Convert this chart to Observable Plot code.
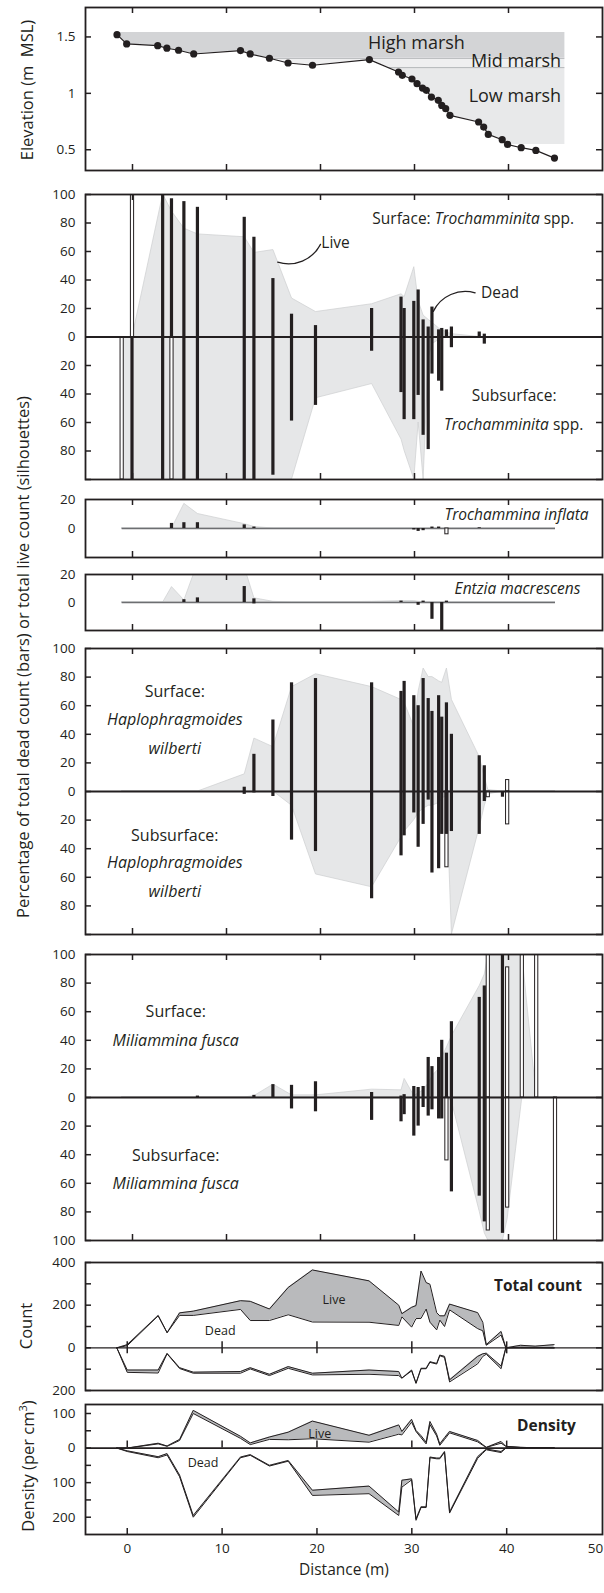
<!DOCTYPE html>
<html>
<head>
<meta charset="utf-8">
<script src="https://cdn.jsdelivr.net/npm/d3@7"></script>
<script src="https://cdn.jsdelivr.net/npm/@observablehq/plot@0.6"></script>
<style>
  html, body { margin: 0; padding: 0; background: #fff; }
  #wrap { position: relative; width: 604px; height: 1593px; overflow: hidden; font-family: "Open Sans", sans-serif; }
</style>
</head>
<body>
<div id="wrap"></div>
<script>
// ---------------- DATA ----------------
// Elevation profile (m MSL) at surveyed distances (m)
const elevDist  = [-1.65, -0.62, 2.68, 3.66, 4.9, 6.51, 11.49, 12.52, 14.57, 16.55, 19.15, 25.2, 28.3, 28.7, 29.73, 30.27, 30.85, 31.26, 31.8, 32.53, 32.9, 33.32, 33.77, 36.82, 37.36, 37.85, 39.33, 39.9, 41.35, 42.91, 44.89];
const elevation = [1.52, 1.438, 1.423, 1.40, 1.382, 1.349, 1.379, 1.349, 1.311, 1.269, 1.249, 1.299, 1.189, 1.160, 1.127, 1.086, 1.047, 1.027, 0.967, 0.938, 0.893, 0.864, 0.805, 0.746, 0.701, 0.636, 0.589, 0.547, 0.518, 0.494, 0.426];
const marshZones  = ["High marsh", "Mid marsh", "Low marsh"];
const marshLevels = [1.54, 1.31, 1.228, 0.547];
const marshEnd = 46;

// Foraminifera sample distances (m)
const sampleDist = [-1.1, 0.0, 3.26, 4.2, 5.52, 6.96, 11.94, 12.97, 14.99, 16.97, 19.52, 25.49, 28.62, 28.95, 29.98, 30.44, 30.97, 31.51, 31.91, 32.62, 32.95, 33.45, 33.98, 36.94, 37.48, 37.85, 39.41, 39.91, 41.47, 43.0, 45.0];

// Trochamminita spp. (% dead = bars, % live = silhouettes)
const trochSurfDead = [0,0,100,97,95,91,84,70,41,16, 8,20,28,20,25,33,12,7,21,5, 6,5,7,3.5,2,0,0,0,0,0, 0];
const trochSubDead  = [0,100,100,0,100,100,100,100,97,59, 48,10,39,58,58,41,69,79,26,31, 38,0,7.5,0,5,0,0,0,0,0, 0];
const trochOpen     = [{i: 0, surf: 0, sub: 100}, {i: 1, surf: 100, sub: 0}, {i: 3, surf: 0, sub: 100}];
const trochSurfLive = [0,0,100,88,76,72,70,59,61,27, 17.5,23,30,28,49,25,15,12,10,6, 5,3,2,0,0,0,0,0,0,0, 0];
const trochSubLive  = [100,100,100,100,100,100,100,100,100,100, 43,33,72,80,100,60,100,15,5,2, 0,0,0,0,0,0,0,0,0,0, 0];

// Trochammina inflata
const inflSurfDead = [0,0,0,3.5,4,4,2.5,1,0,0, 0,0,0,0,0,0,0,0,1,1, 0,0,0,0.5,0,0,0,0,0,0, 0];
const inflSubDead  = [0,0,0,0,0,0,0,0,0,0, 0,0,0,0,1,2,1.5,0,0,0, 0,0,0,0,0,0,0,0,0,0, 0];
const inflOpen     = [{i: 21, surf: 0, sub: 4}];
const inflSurfLive = [0,0,0,0,17,10,3,1,0,0, 0,0,0,0,0,0,0,0,0,0, 0,0,0,0,0,0,0,0,0,0, 0];
const inflSubLive  = [0,0,0,0,0,0,0,0,0,0, 0,0,0,0,0,0,0,0,0,0, 0,0,0,0,0,0,0,0,0,0, 0];

// Entzia macrescens
const entzSurfDead = [0,0,0,0,2,3.3,11.4,2.6,0,0, 0,0,1,0,0,0,1,0,0,0, 0,1,0,0,0,0,0,0,0,0, 0];
const entzSubDead  = [0,0,0,0,0,0,0,1,0,0, 0,0,0,0,0,2,0,0,12,0, 25,0,0,0,0,0,0,0,0,0, 0];
const entzOpen     = [];
const entzSurfLive = [0,0,0,11,1.5,28,25,3,0.5,0, 0,0.5,1,1,1,0.5,0,0,0,0, 0,0,0,0,0,0,0,0,0,0, 0];
const entzSubLive  = [0,0,0,0,0,0,0,0,0,0, 0,0,0,0,0,0,0,0,0,0, 0,0,0,0,0,0,0,0,0,0, 0];

// Haplophragmoides wilberti
const hapSurfDead = [0,0,0,0,0,0,3,26,50,76, 79,76,70,77,67,60,79,65,56,67, 52,62,40,25,18,0,0,0,0,0, 0];
const hapSubDead  = [0,0,0,0,0,0,2,1,3.5,34, 42,75,45,31,15,39,23,6,57,54, 30,30,28,30,7,0,4,0,0,0, 0];
const hapOpen     = [{i: 21, surf: 0, sub: 53}, {i: 25, surf: 0, sub: 4}, {i: 27, surf: 8, sub: 23}];
const hapSurfLive = [0,0,0,0,0,0,12,37,31,73, 82,73,64,62,45,70,86,80,80,77, 76,86,64,24,10,1,0,0,0,0, 0];
const hapSubLive  = [0,0,0,0,0,0,0,0,0,10, 58,67,32,28,20,15,12,10,10,8, 5,3,100,25,10,2,0,0,0,0, 0];

// Miliammina fusca
const milSurfDead = [0,0,0,0,0,1,0,1.5,9,8.5, 11,3.5,1,2,7.7,7,7.7,28,21.6,28, 40,31,53,70,78,0,100,0,0,0, 0];
const milSubDead  = [0,0,0,0,0,0,0,0,0,8, 10,16,17,12,27,20,7,13,8.6,15, 15,0,66,69,87,0,95,0,0,0, 0];
const milOpen     = [{i: 21, surf: 0, sub: 44}, {i: 25, surf: 100, sub: 93}, {i: 27, surf: 91, sub: 77}, {i: 28, surf: 100, sub: 0}, {i: 29, surf: 100, sub: 0}, {i: 30, surf: 0, sub: 100}];
const milSurfLive = [0,0,0,0,0,0,0,1,9,1.5, 1.5,5.5,5,13,1,3,5,10,15,20, 28,35,43,78,86,100,100,100,100,0, 0];
const milSubLive  = [0,0,0,0,0,0,0,0,0,0, 0,0,0,0,0,0,0,0,0,0, 0,0,3,80,95,100,100,85,0,0, 0];

// Total count (dead + live stacked), surface up, subsurface down
const countDeadSurf = [0,10,150,71,152,152,180,128,128,155, 121,120,105,145,97,137,138,182,120,84, 130,100,178,90,80,12,60,0,3,2, 0];
const countLiveSurf = [0,5,2,0,12,20,41,90,54,128, 244,194,95,15,93,61,222,124,178,81, 20,50,27,75,40,3,17,0,9,6, 15];
const countDeadSub  = [0,104,104,26,93,114,111,93,124,88, 119,104,111,142,104,166,96,96,65,73, 34,40,150,40,28,25,85,0,0,0, 0];
const countLiveSub  = [0,11,14,2,4,5,8,6,6,8, 8,20,19,0,4,0,2,2,3,3, 3,5,10,35,12,5,13,0,0,0, 0];

// Density (per cm3)
const densDeadSurf = [0,0,12,5,22,100,28,10,25,24, 27,17,40,38,75,48,30,12,68,35, 8,25,44,18,8,2,14,5,2,1, 1];
const densLiveSurf = [0,0,2,1,3,9,6,5,7,22, 51,20,27,10,8,3,6,5,9,5, 4,5,4,4,2,0,5,0,0,0, 0];
const densDeadSub  = [0,8,25,16,78,195,26,19,50,36, 122,110,185,93,89,205,170,170,26,29, 29,10,185,25,12,3,10,0,0,0, 0];
const densLiveSub  = [0,2,3,4,5,5,2,2,2,2, 15,22,10,20,3,4,2,2,2,2, 2,2,3,5,3,2,3,0,0,0, 0];

// Tick values
const xTicks = [0, 10, 20, 30, 40];
const xTickLabels = [0, 10, 20, 30, 40];
const xEndLabel = [50];
const elevTicks = [0.5, 1, 1.5];
const pctTicks = [100, 80, 60, 40, 20, 0, -20, -40, -60, -80, -100];
const pctLabels2 = [100, 80, 60, 40, 20, 0, -20, -40, -60, -80];
const pctLabels6 = [100, 80, 60, 40, 20, 0, -20, -40, -60, -80, -100];
const smallLabels = [20, 0];
const countTicks = [400, 300, 200, 100, 0, -100, -200];
const countLabels = [400, 200, 0, -200];
const densTicks = [100, 50, 0, -50, -100, -150, -200];
const densLabels = [100, 0, -100, -200];

// ---------------- DRAWING ----------------
const wrap = document.getElementById("wrap");
const INK = "#231f20";
const SIL = "#e6e7e8", SIL_EDGE = "#cdced0", BAND = "#b9babc";
const marshFill = ["#d3d4d6", "#efeff0", "#e8e9ea"];
const FONT = "'Open Sans', sans-serif";
const ML = 85, MR = 2, W = 604, IW = W - ML - MR, TL = 6, HW = 0.17;
const TICKFONT = 13.5;
const upperX = [-5, 50], lowerX = [-4.4, 50.1];
const absFmt = d => String(Math.abs(d));

function panel(top, bottom, xDomain, yDomain, marksFn) {
  const mt = 2, mb = 2, h = bottom - top;
  const svg = Plot.plot({
    width: W, height: h + mt + mb,
    marginLeft: ML, marginRight: MR, marginTop: mt, marginBottom: mb,
    x: {domain: xDomain, axis: null},
    y: {domain: yDomain, axis: null},
    style: `overflow: visible; background: transparent; font-family: ${FONT}; font-size: 12.5px; color: ${INK};`,
    marks: marksFn(h)
  });
  svg.style.position = "absolute";
  svg.style.left = "0px";
  svg.style.top = (top - mt) + "px";
  wrap.appendChild(svg);
  return svg;
}

function xFrameTicks(h) {
  return [
    Plot.ruleX(xTicks, {insetBottom: h - TL, stroke: INK, strokeWidth: 1.5}),
    Plot.ruleX(xTicks, {insetTop: h - TL, stroke: INK, strokeWidth: 1.5})
  ];
}
function yFrameTicks(ticks, left = true, right = true) {
  const m = [];
  if (left) m.push(Plot.ruleY(ticks, {insetRight: IW - TL, stroke: INK, strokeWidth: 1.5}));
  if (right) m.push(Plot.ruleY(ticks, {insetLeft: IW - TL, stroke: INK, strokeWidth: 1.5}));
  return m;
}
function yTickLabels(vals, fmt) {
  return Plot.text(vals, {y: d => d, text: fmt, frameAnchor: "left", textAnchor: "end", dx: -10, fontSize: TICKFONT, fill: INK});
}
function frame() { return Plot.frame({stroke: INK, strokeWidth: 1.8}); }

function silhouette(surf, sub) {
  const d = sampleDist.map((x, i) => ({x, s: surf[i], b: -sub[i]}));
  return [
    Plot.areaY(d, {x: "x", y: "s", fill: SIL, stroke: SIL_EDGE, strokeWidth: 0.7, clip: true}),
    Plot.areaY(d, {x: "x", y: "b", fill: SIL, stroke: SIL_EDGE, strokeWidth: 0.7, clip: true})
  ];
}
function bars(surf, sub, open) {
  const black = [];
  surf.forEach((v, i) => { if (v > 0) black.push({x: sampleDist[i], v}); });
  sub.forEach((v, i) => { if (v > 0) black.push({x: sampleDist[i], v: -v}); });
  const opens = [];
  open.forEach(o => {
    if (o.surf) opens.push({x: sampleDist[o.i], v: o.surf});
    if (o.sub) opens.push({x: sampleDist[o.i], v: -o.sub});
  });
  return [
    Plot.rect(opens, {x1: d => d.x - HW, x2: d => d.x + HW, y1: 0, y2: "v", fill: "white", stroke: INK, strokeWidth: 1, clip: true}),
    Plot.rect(black, {x1: d => d.x - HW, x2: d => d.x + HW, y1: 0, y2: "v", fill: INK, clip: true})
  ];
}
function scaleFn(svg, name) {
  const s = svg.scale(name);
  return s.apply ? s.apply : d3.scaleLinear(s.domain, s.range);
}
function richText(svg, x, y, parts, size = 15) {
  const fx = scaleFn(svg, "x"), fy = scaleFn(svg, "y");
  const t = d3.select(svg).append("text")
    .attr("x", fx(x)).attr("y", fy(y)).attr("dy", "0.35em")
    .attr("text-anchor", "middle").attr("font-size", size)
    .attr("font-family", FONT).attr("fill", INK);
  parts.forEach(([s, it]) => t.append("tspan").attr("font-style", it ? "italic" : "normal").text(s));
}

// --- marsh bands from the elevation profile
function bandPoints(lo, hi) {
  const xs = elevDist.concat([marshEnd]);
  const ys = elevation.concat([elevation[elevation.length - 1]]);
  const pts = [];
  for (let i = 0; i < xs.length; i++) {
    if (i > 0) {
      for (const L of [lo, hi]) {
        const a = ys[i - 1] - L, b = ys[i] - L;
        if (a * b < 0) pts.push({x: xs[i - 1] + (xs[i] - xs[i - 1]) * a / (a - b), e: L});
      }
    }
    pts.push({x: xs[i], e: ys[i]});
  }
  pts.sort((p, q) => p.x - q.x);
  return pts.map(p => ({x: p.x, y1: Math.max(lo, Math.min(hi, p.e)), y2: hi}));
}
function firstCross(L) {
  for (let i = 1; i < elevDist.length; i++) {
    const a = elevation[i - 1] - L, b = elevation[i] - L;
    if (a >= 0 && b < 0) return elevDist[i - 1] + (elevDist[i] - elevDist[i - 1]) * a / (a - b);
  }
  return elevDist[0];
}

// Panel 1: elevation
const elevData = elevDist.map((x, i) => ({x, y: elevation[i]}));
panel(7, 170, upperX, [0.316, 1.761], h => [
  ...marshZones.map((z, k) => Plot.areaY(bandPoints(marshLevels[k + 1], marshLevels[k]), {x: "x", y1: "y1", y2: "y2", fill: marshFill[k]})),
  Plot.ruleY([marshLevels[1], marshLevels[2]], {x1: d => firstCross(d), x2: marshEnd, stroke: "#a7a9ac", strokeWidth: 0.8}),
  Plot.line(elevData, {x: "x", y: "y", stroke: INK, strokeWidth: 1.2}),
  Plot.dot(elevData, {x: "x", y: "y", r: 3.6, fill: INK}),
  Plot.text([marshZones[0]], {x: 30.2, y: 1.444, fontSize: 18, fill: INK}),
  Plot.text([marshZones[1]], {x: 45.6, y: 1.284, fontSize: 18, textAnchor: "end", fill: INK}),
  Plot.text([marshZones[2]], {x: 45.6, y: 0.973, fontSize: 18, textAnchor: "end", fill: INK}),
  ...xFrameTicks(h), ...yFrameTicks(elevTicks),
  yTickLabels(elevTicks, d => String(d)),
  frame()
]);

// Panel 2: Trochamminita spp.
const p2 = panel(194, 479, upperX, [-100, 100], h => [
  ...silhouette(trochSurfLive, trochSubLive),
  ...bars(trochSurfDead, trochSubDead, trochOpen),
  Plot.ruleY([0], {stroke: INK, strokeWidth: 1.8}),
  Plot.arrow([{x1: 15.45, y1: 52.5, x2: 20.0, y2: 65}], {x1: "x1", y1: "y1", x2: "x2", y2: "y2", bend: -40, headLength: 0, stroke: INK, strokeWidth: 1.3}),
  Plot.arrow([{x1: 32.0, y1: 18, x2: 36.45, y2: 31}], {x1: "x1", y1: "y1", x2: "x2", y2: "y2", bend: 40, headLength: 0, stroke: INK, strokeWidth: 1.3}),
  Plot.text(["Live"], {x: 21.6, y: 65.7, fontSize: 15.5, fill: INK}),
  Plot.text(["Dead"], {x: 39.1, y: 31.1, fontSize: 15.5, fill: INK}),
  Plot.text(["Subsurface:"], {x: 40.6, y: -41.7, fontSize: 15.5, fill: INK}),
  ...xFrameTicks(h), ...yFrameTicks(pctTicks),
  yTickLabels(pctLabels2, absFmt),
  frame()
]);
richText(p2, 36.3, 82.5, [["Surface: ", false], ["Trochamminita", true], [" spp.", false]], 15.5);
richText(p2, 40.6, -61.7, [["Trochamminita", true], [" spp.", false]], 15.5);

// Panel 3: Trochammina inflata
panel(499, 557, upperX, [-20, 20], h => [
  ...silhouette(inflSurfLive, inflSubLive),
  Plot.ruleY([0], {x1: sampleDist[0], x2: sampleDist[sampleDist.length - 1], stroke: "#6d6e71", strokeWidth: 1.5}),
  ...bars(inflSurfDead, inflSubDead, inflOpen),
  Plot.text(["Trochammina inflata"], {x: 40.85, y: 9, fontSize: 15.5, fontStyle: "italic", fill: INK}),
  ...xFrameTicks(h),
  yTickLabels(smallLabels, absFmt),
  frame()
]);

// Panel 4: Entzia macrescens
panel(574, 630, upperX, [-20, 20], h => [
  ...silhouette(entzSurfLive, entzSubLive),
  Plot.ruleY([0], {x1: sampleDist[0], x2: sampleDist[sampleDist.length - 1], stroke: "#6d6e71", strokeWidth: 1.5}),
  ...bars(entzSurfDead, entzSubDead, entzOpen),
  Plot.text(["Entzia macrescens"], {x: 40.96, y: 9.8, fontSize: 15.5, fontStyle: "italic", fill: INK}),
  ...xFrameTicks(h),
  yTickLabels(smallLabels, absFmt),
  frame()
]);

// Panel 5: Haplophragmoides wilberti
panel(648, 934, upperX, [-100, 100], h => [
  ...silhouette(hapSurfLive, hapSubLive),
  ...bars(hapSurfDead, hapSubDead, hapOpen),
  Plot.ruleY([0], {stroke: INK, strokeWidth: 1.8}),
  Plot.text(["Surface:"], {x: 4.5, y: 70, fontSize: 16, fill: INK}),
  Plot.text(["Haplophragmoides"], {x: 4.5, y: 50, fontSize: 16, fontStyle: "italic", fill: INK}),
  Plot.text(["wilberti"], {x: 4.5, y: 30, fontSize: 16, fontStyle: "italic", fill: INK}),
  Plot.text(["Subsurface:"], {x: 4.5, y: -31, fontSize: 16, fill: INK}),
  Plot.text(["Haplophragmoides"], {x: 4.5, y: -50, fontSize: 16, fontStyle: "italic", fill: INK}),
  Plot.text(["wilberti"], {x: 4.5, y: -70, fontSize: 16, fontStyle: "italic", fill: INK}),
  ...xFrameTicks(h), ...yFrameTicks(pctTicks),
  yTickLabels(pctLabels2, absFmt),
  frame()
]);

// Panel 6: Miliammina fusca
panel(954, 1240, upperX, [-100, 100], h => [
  ...silhouette(milSurfLive, milSubLive),
  ...bars(milSurfDead, milSubDead, milOpen),
  Plot.ruleY([0], {stroke: INK, strokeWidth: 1.8}),
  Plot.text(["Surface:"], {x: 4.6, y: 60, fontSize: 16, fill: INK}),
  Plot.text(["Miliammina fusca"], {x: 4.6, y: 39.7, fontSize: 16, fontStyle: "italic", fill: INK}),
  Plot.text(["Subsurface:"], {x: 4.6, y: -40.8, fontSize: 16, fill: INK}),
  Plot.text(["Miliammina fusca"], {x: 4.6, y: -60.6, fontSize: 16, fontStyle: "italic", fill: INK}),
  ...xFrameTicks(h), ...yFrameTicks(pctTicks),
  yTickLabels(pctLabels6, absFmt),
  frame()
]);

// Panel 7: Total count
const cData = sampleDist.map((x, i) => ({
  x,
  d: countDeadSurf[i], t: countDeadSurf[i] + countLiveSurf[i],
  ds: -countDeadSub[i], ts: -(countDeadSub[i] + countLiveSub[i])
}));
panel(1262, 1390, lowerX, [-200, 400], h => {
  const u = 600 / h;
  return [
    Plot.areaY(cData, {x: "x", y1: "d", y2: "t", fill: BAND}),
    Plot.areaY(cData, {x: "x", y1: "ds", y2: "ts", fill: BAND}),
    Plot.line(cData, {x: "x", y: "d", stroke: INK, strokeWidth: 1}),
    Plot.line(cData, {x: "x", y: "t", stroke: INK, strokeWidth: 1}),
    Plot.line(cData, {x: "x", y: "ds", stroke: INK, strokeWidth: 1}),
    Plot.line(cData, {x: "x", y: "ts", stroke: INK, strokeWidth: 1}),
    Plot.ruleY([0], {stroke: INK, strokeWidth: 1.2}),
    Plot.ruleX(xTicks, {y1: -TL * u, y2: TL * u, stroke: INK, strokeWidth: 1.5}),
    Plot.text(["Total count"], {x: 43.3, y: 290, fontSize: 15.5, fontWeight: "bold", fill: INK}),
    Plot.text(["Live"], {x: 21.8, y: 225, fontSize: 12.5, fill: INK}),
    Plot.text(["Dead"], {x: 9.8, y: 78, fontSize: 12.5, fill: INK}),
    ...yFrameTicks(countTicks),
    yTickLabels(countLabels, absFmt),
    frame()
  ];
});

// Panel 8: Density
const dData = sampleDist.map((x, i) => ({
  x,
  d: densDeadSurf[i], t: densDeadSurf[i] + densLiveSurf[i],
  ds: -densDeadSub[i], ts: -(densDeadSub[i] + densLiveSub[i])
}));
panel(1404, 1534, lowerX, [-250, 126], h => {
  const u = 376 / h;
  return [
    Plot.areaY(dData, {x: "x", y1: "d", y2: "t", fill: BAND}),
    Plot.areaY(dData, {x: "x", y1: "ds", y2: "ts", fill: BAND}),
    Plot.line(dData, {x: "x", y: "d", stroke: INK, strokeWidth: 1}),
    Plot.line(dData, {x: "x", y: "t", stroke: INK, strokeWidth: 1}),
    Plot.line(dData, {x: "x", y: "ds", stroke: INK, strokeWidth: 1}),
    Plot.line(dData, {x: "x", y: "ts", stroke: INK, strokeWidth: 1}),
    Plot.ruleY([0], {stroke: INK, strokeWidth: 1.8}),
    Plot.ruleX(xTicks, {y1: 0, y2: 7 * u, stroke: INK, strokeWidth: 1.5}),
    Plot.ruleX(xTicks, {insetTop: h - TL, stroke: INK, strokeWidth: 1.5}),
    Plot.text(["Density"], {x: 44.2, y: 65, fontSize: 15.5, fontWeight: "bold", fill: INK}),
    Plot.text(["Live"], {x: 20.3, y: 42, fontSize: 12.5, fill: INK}),
    Plot.text(["Dead"], {x: 8.0, y: -42, fontSize: 12.5, fill: INK}),
    ...yFrameTicks(densTicks, true, false),
    yTickLabels(densLabels, absFmt),
    Plot.text(xTickLabels, {x: d => d, text: d => String(d), frameAnchor: "bottom", dy: 18, fontSize: TICKFONT, fill: INK}),
    Plot.text(xEndLabel, {x: d => d, text: d => String(d), frameAnchor: "bottom", dy: 18, dx: -6, fontSize: TICKFONT, fill: INK}),
    Plot.text(["Distance (m)"], {frameAnchor: "bottom", dy: 40, fontSize: 15.5, fill: INK}),
    frame()
  ];
});

// Rotated axis titles
const yTitles = [
  {parts: [["Elevation (m  MSL)", 0]], x: 27, y: 90},
  {parts: [["Percentage of total dead count (bars) or total live count (silhouettes)", 0]], x: 23, y: 657},
  {parts: [["Count", 0]], x: 26, y: 1326},
  {parts: [["Density (per cm", 0], ["3", 1], [")", 0]], x: 28, y: 1466}
];
const ov = d3.select(wrap).append("svg")
  .attr("width", W).attr("height", 1593)
  .style("position", "absolute").style("left", "0px").style("top", "0px")
  .style("overflow", "visible");
yTitles.forEach(t => {
  const el = ov.append("text")
    .attr("transform", `translate(${t.x},${t.y}) rotate(-90)`)
    .attr("text-anchor", "middle").attr("dy", "0.35em")
    .attr("font-family", FONT).attr("font-size", 16.5).attr("fill", INK)
    .style("white-space", "pre");
  t.parts.forEach(([s, sup]) => {
    const ts = el.append("tspan").text(s);
    if (sup) ts.attr("baseline-shift", "super").attr("font-size", 11);
  });
});
</script>
</body>
</html>
